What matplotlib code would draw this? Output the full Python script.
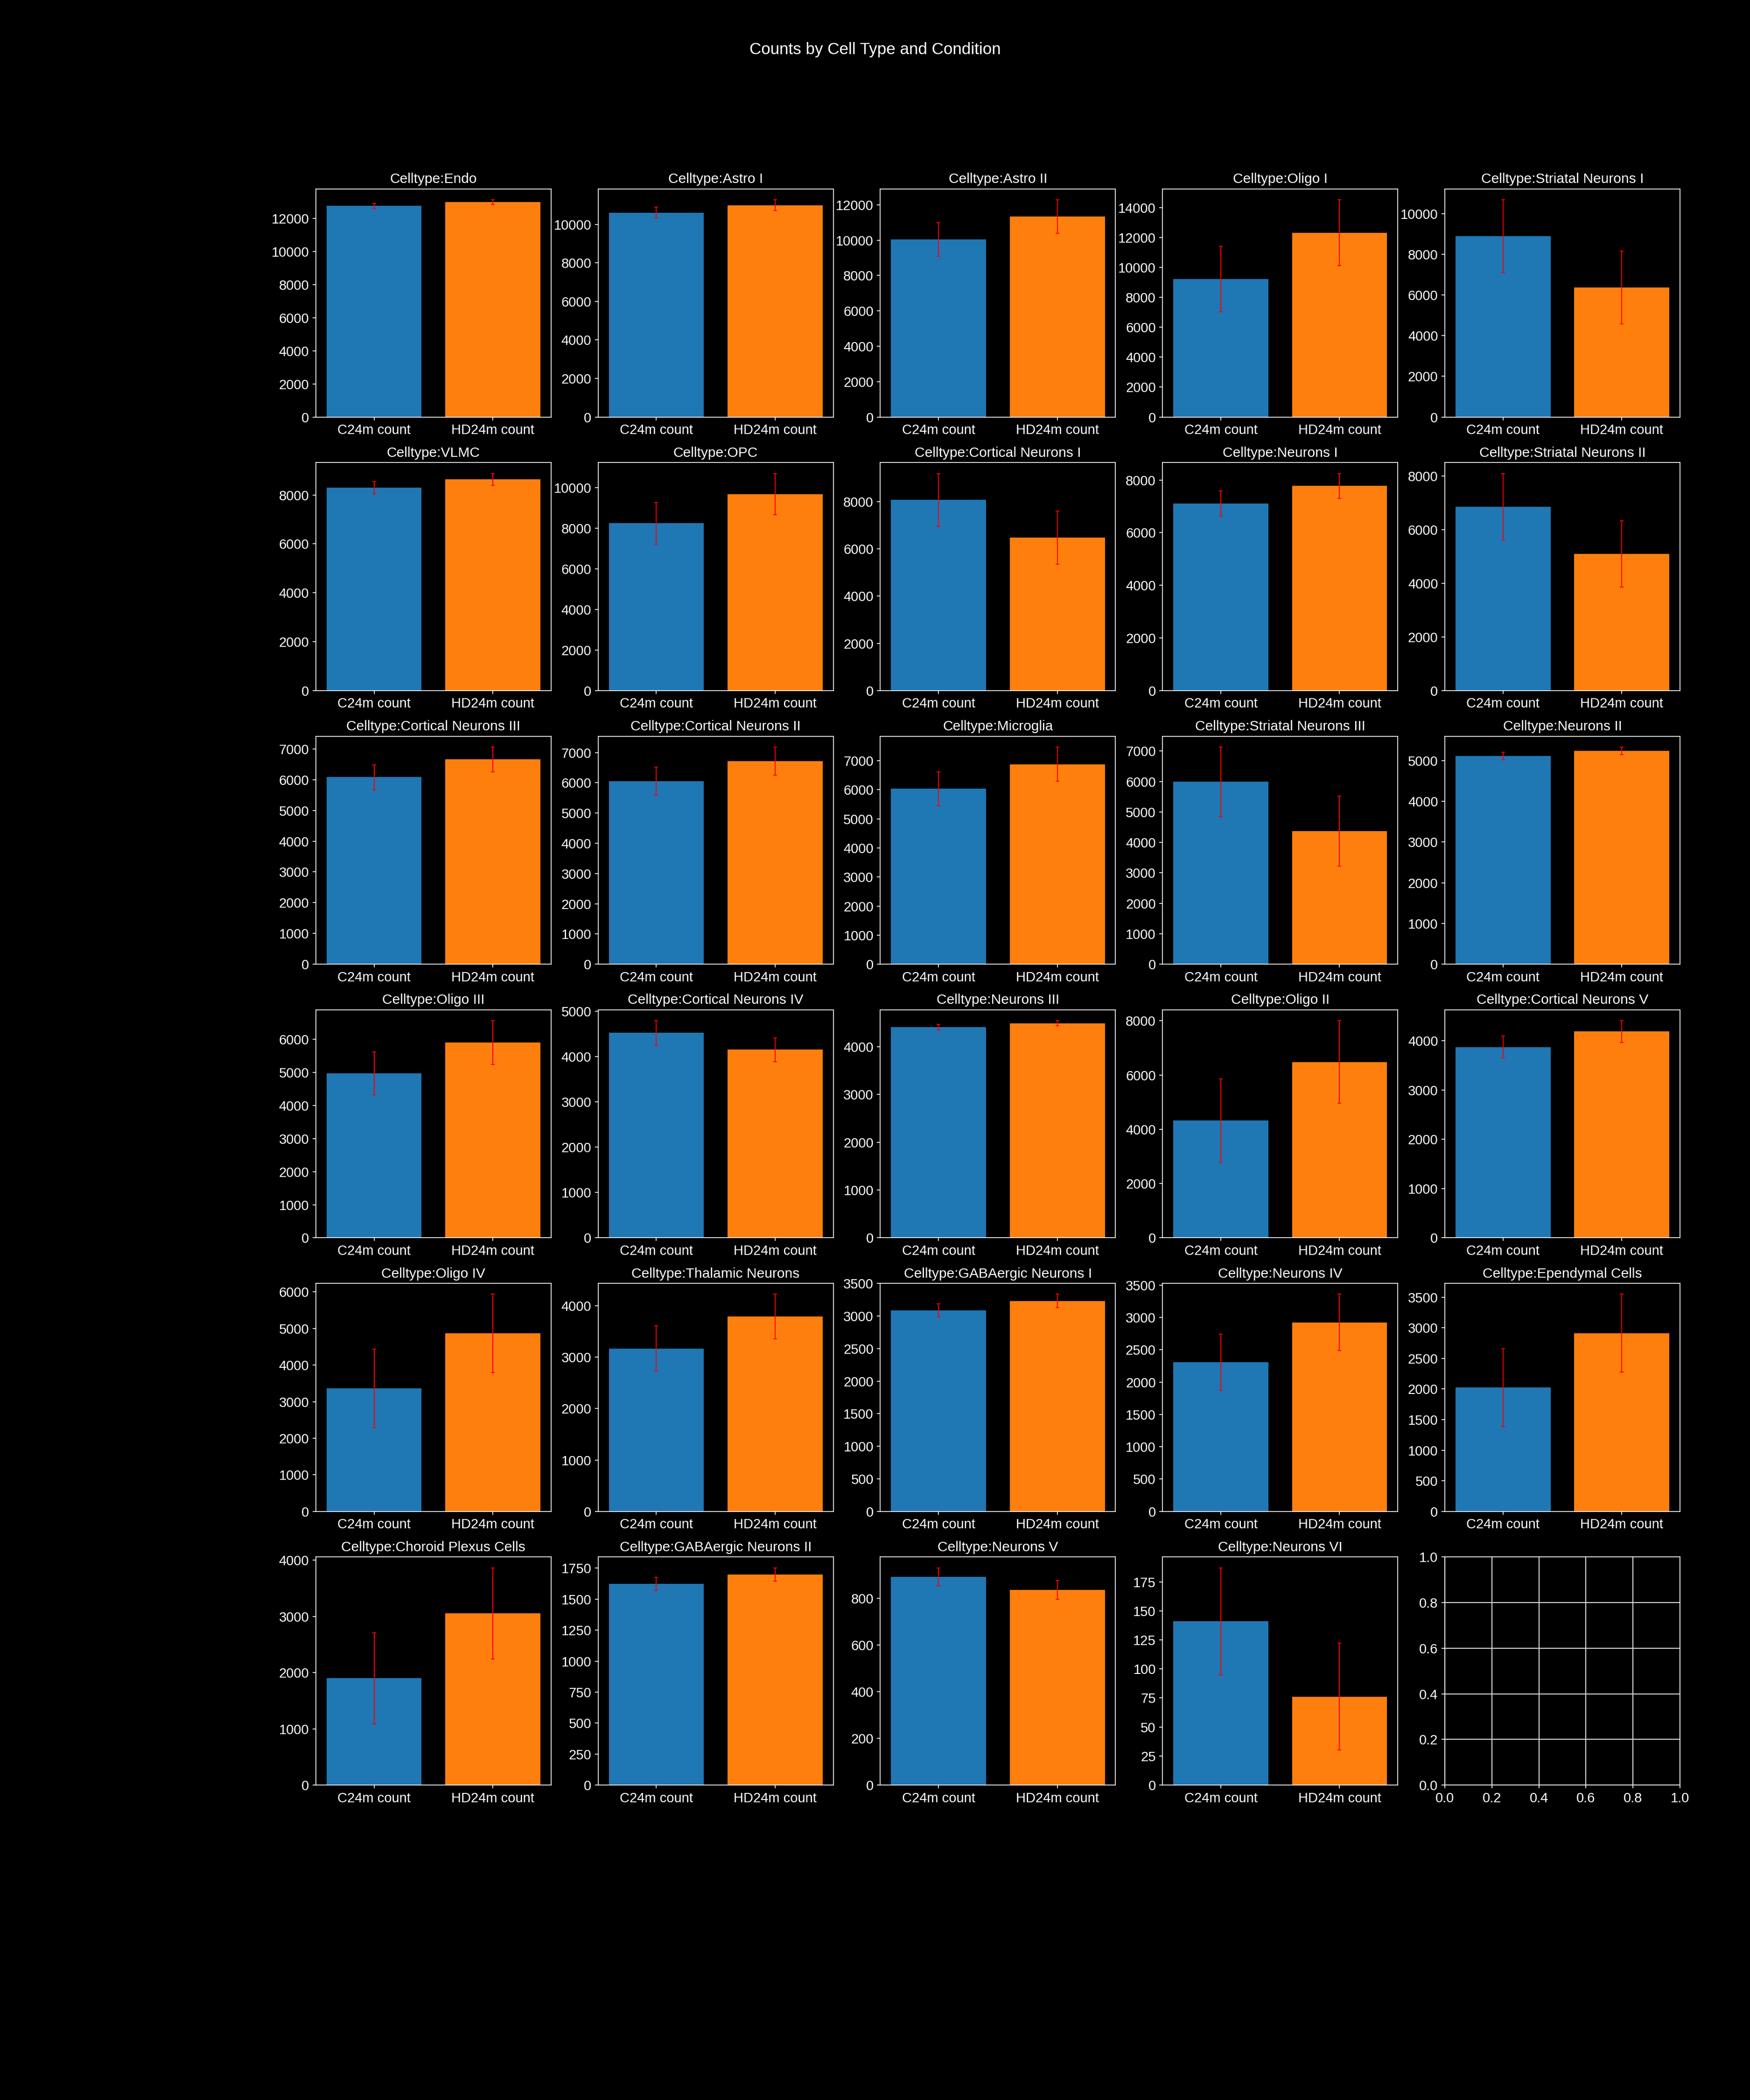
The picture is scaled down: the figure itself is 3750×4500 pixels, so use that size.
import matplotlib
matplotlib.use("Agg")
import matplotlib.pyplot as plt

plt.style.use("dark_background")
plt.rcParams['font.family'] = ['Liberation Sans', 'DejaVu Sans']
plt.rcParams['font.size'] = 12

celltypes = ["Endo", "Astro I", "Astro II", "Oligo I", "Striatal Neurons I",
             "VLMC", "OPC", "Cortical Neurons I", "Neurons I", "Striatal Neurons II",
             "Cortical Neurons III", "Cortical Neurons II", "Microglia", "Striatal Neurons III", "Neurons II",
             "Oligo III", "Cortical Neurons IV", "Neurons III", "Oligo II", "Cortical Neurons V",
             "Oligo IV", "Thalamic Neurons", "GABAergic Neurons I", "Neurons IV", "Ependymal Cells",
             "Choroid Plexus Cells", "GABAergic Neurons II", "Neurons V", "Neurons VI"]

conditions = ["C24m count", "HD24m count"]

c24m_mean = [12750, 10610, 10040, 9230, 8890,
             8300, 8250, 8070, 7100, 6850,
             6080, 6050, 6040, 5990, 5115,
             4975, 4520, 4410, 4320, 3870,
             3360, 3170, 3090, 2307, 2022,
             1900, 1624, 893, 141]
hd24m_mean = [12980, 10990, 11340, 12320, 6370,
              8640, 9690, 6470, 7780, 5090,
              6660, 6715, 6880, 4365, 5240,
              5905, 4150, 4490, 6480, 4185,
              4865, 3790, 3232, 2922, 2912,
              3054, 1700, 837, 76]
c24m_err = [160, 270, 950, 2180, 1790,
            240, 1020, 1120, 480, 1240,
            400, 465, 580, 1140, 90,
            650, 270, 55, 1535, 220,
            1070, 437, 100, 435, 633,
            810, 52, 38, 46]
hd24m_err = [140, 280, 940, 2200, 1790,
             240, 1020, 1130, 470, 1240,
             400, 465, 590, 1150, 95,
             660, 265, 55, 1525, 220,
             1070, 435, 103, 437, 635,
             810, 53, 40, 46]

bar_colors = ["#1f77b4", "#ff7f0e"]

fig, axes = plt.subplots(6, 5, figsize=(25, 30), dpi=150)
fig.subplots_adjust(left=0.1805, right=0.96, bottom=0.15, top=0.91, wspace=0.2, hspace=0.2)
fig.suptitle("Counts by Cell Type and Condition", fontsize=16.8, color='white')

flat = axes.ravel()
for ax in flat:
    ax.tick_params(labelsize=14)

for i, name in enumerate(celltypes):
    ax = flat[i]
    ax.bar(conditions, [c24m_mean[i], hd24m_mean[i]],
           yerr=[c24m_err[i], hd24m_err[i]], color=bar_colors,
           ecolor='red', capsize=2, error_kw=dict(elinewidth=1, capthick=1))
    ax.set_title(f"Celltype:{name}", fontsize=14.4)
    ax.grid(False)

for ax in flat[len(celltypes):]:
    ax.grid(True, color='#d8d8d8', linewidth=1.0)

fig.savefig("out.png", dpi=150, facecolor='black')
